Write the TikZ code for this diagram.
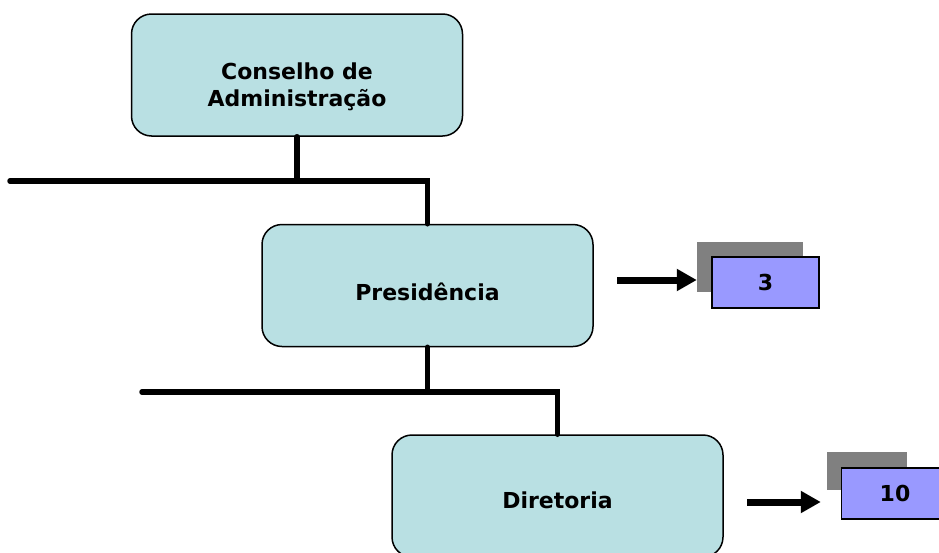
\documentclass[tikz,border=0pt]{standalone}
\usepackage{fontspec}
\setmainfont{DejaVu Sans}
\usetikzlibrary{arrows.meta}
\definecolor{boxfill}{RGB}{185,224,227}
\definecolor{numfill}{RGB}{153,153,255}
\definecolor{shadowgray}{RGB}{128,128,128}
\tikzset{
  orgbox/.style={draw=black, line width=1.5pt, fill=boxfill, rounded corners=20pt,
    minimum width=331pt, minimum height=122pt, inner sep=0pt},
  orgtext/.style={inner sep=0pt, align=center,
    font=\fontsize{22}{27.5}\selectfont\bfseries},
  numbox/.style={draw=black, line width=1.5pt, fill=numfill, minimum width=107pt,
    minimum height=51pt, inner sep=0pt, font=\fontsize{22}{25}\selectfont\bfseries},
  shadowbox/.style={fill=shadowgray, draw=none, inner sep=0pt},
  conn/.style={line width=5.5pt, line cap=round, line join=miter},
  bigarrow/.style={line width=7pt, -{Triangle[length=20pt,width=21pt]}}
}
\begin{document}
\begin{tikzpicture}[x=1pt,y=-1pt]
\useasboundingbox (0,0) rectangle (939,552);
\clip (0,0) rectangle (939,552);
\coordinate (h1) at (10,181);
\coordinate (h2) at (142,392);
\node[orgbox] (cons) at (297,75) {};
\node[orgbox] (pres) at (427.5,285.5) {};
\node[orgbox] (dir) at (557.5,496) {};
\node[orgtext] (consT) at (297,87) {Conselho de\\Administração};
\node[orgtext] (presT) at (427.5,292) {Presidência};
\node[orgtext] (dirT) at (557.5,500) {Diretoria};
\draw[conn] (cons.south) -- (cons.south |- h1);
\draw[conn] (h1) -- (pres.north |- h1) -- (pres.north);
\draw[conn] (pres.south) -- (pres.south |- h2);
\draw[conn] (h2) -- (dir.north |- h2) -- (dir.north);
% number boxes
\node[shadowbox, minimum width=106pt, minimum height=50pt] (sh1) at (750,267) {};
\node[numbox] (n1) at (765.5,282.5) {3};
\node[shadowbox, minimum width=80pt, minimum height=38pt] (sh2) at (867,471) {};
\node[numbox] (n2) at (895,493.5) {10};
\coordinate (a1) at (617,280);
\coordinate (a2) at (747,502);
\draw[bigarrow] (a1) -- (a1 -| sh1.west);
\draw[bigarrow] (a2) -- ([xshift=-6pt]a2 -| sh2.west);
\end{tikzpicture}
\end{document}
